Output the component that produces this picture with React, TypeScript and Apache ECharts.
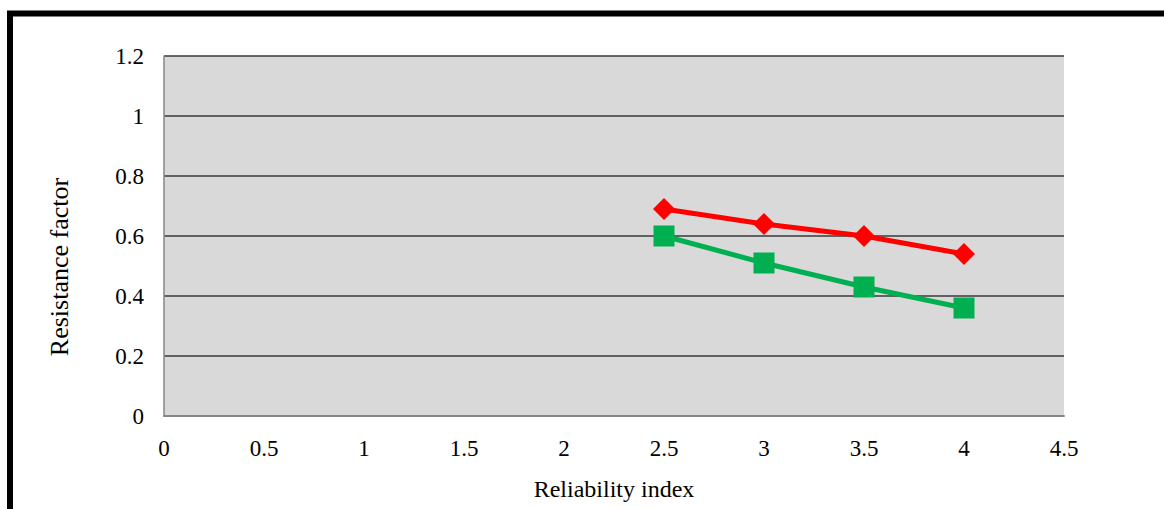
import React, { useEffect, useRef } from "react";
import * as echarts from "echarts";

const xValues = [2.5, 3, 3.5, 4];
const redSeries = [0.69, 0.64, 0.6, 0.54];
const greenSeries = [0.6, 0.51, 0.43, 0.36];
const xAxisName = "Reliability index";
const yAxisName = "Resistance factor";

export default function App() {
  const ref = useRef<HTMLDivElement>(null);
  useEffect(() => {
    const chart = echarts.init(ref.current!, null, { renderer: "svg" });
    const font = "Liberation Serif";
    chart.setOption({
      animation: false,
      textStyle: { fontFamily: font },
      graphic: [
        {
          type: "rect",
          shape: { x: 10, y: 13.5, width: 1300, height: 700 },
          style: { fill: "none", stroke: "#000", lineWidth: 6 },
          silent: true,
        },
        {
          type: "text",
          x: 59,
          y: 267,
          rotation: Math.PI / 2,
          style: {
            text: yAxisName,
            fontFamily: font,
            fontSize: 26,
            fill: "#000",
            align: "center",
            verticalAlign: "middle",
          },
          silent: true,
        },
      ],
      grid: {
        left: 164,
        top: 56,
        right: 100,
        bottom: 93,
        show: true,
        backgroundColor: "#d9d9d9",
        borderWidth: 0,
      },
      xAxis: {
        type: "value",
        min: 0,
        max: 4.5,
        interval: 0.5,
        name: xAxisName,
        nameLocation: "middle",
        nameGap: 61,
        nameTextStyle: { fontFamily: font, fontSize: 24, color: "#000" },
        axisLine: { show: true, onZero: false, lineStyle: { color: "#868686", width: 2 } },
        axisTick: { show: false },
        splitLine: { show: false },
        axisLabel: { fontFamily: font, fontSize: 23, color: "#000", margin: 21 },
      },
      yAxis: {
        type: "value",
        min: 0,
        max: 1.2,
        interval: 0.2,
        axisLine: { show: true, lineStyle: { color: "#868686", width: 1.5 } },
        axisTick: { show: false },
        splitLine: { show: true, lineStyle: { color: "#383838", width: 1.6 } },
        axisLabel: { fontFamily: font, fontSize: 23, color: "#000", margin: 20 },
      },
      series: [
        {
          type: "line",
          data: xValues.map((x, i) => [x, redSeries[i]]),
          symbol: "diamond",
          symbolSize: 22,
          lineStyle: { color: "#ff0000", width: 5 },
          itemStyle: { color: "#ff0000" },
        },
        {
          type: "line",
          data: xValues.map((x, i) => [x, greenSeries[i]]),
          symbol: "rect",
          symbolSize: 21,
          lineStyle: { color: "#00b050", width: 5 },
          itemStyle: { color: "#00b050" },
        },
      ],
    });
    return () => chart.dispose();
  }, []);
  return (
    <div
      ref={ref}
      style={{ position: "fixed", left: 0, top: 0, width: 1164, height: 509, background: "#fff" }}
    />
  );
}
